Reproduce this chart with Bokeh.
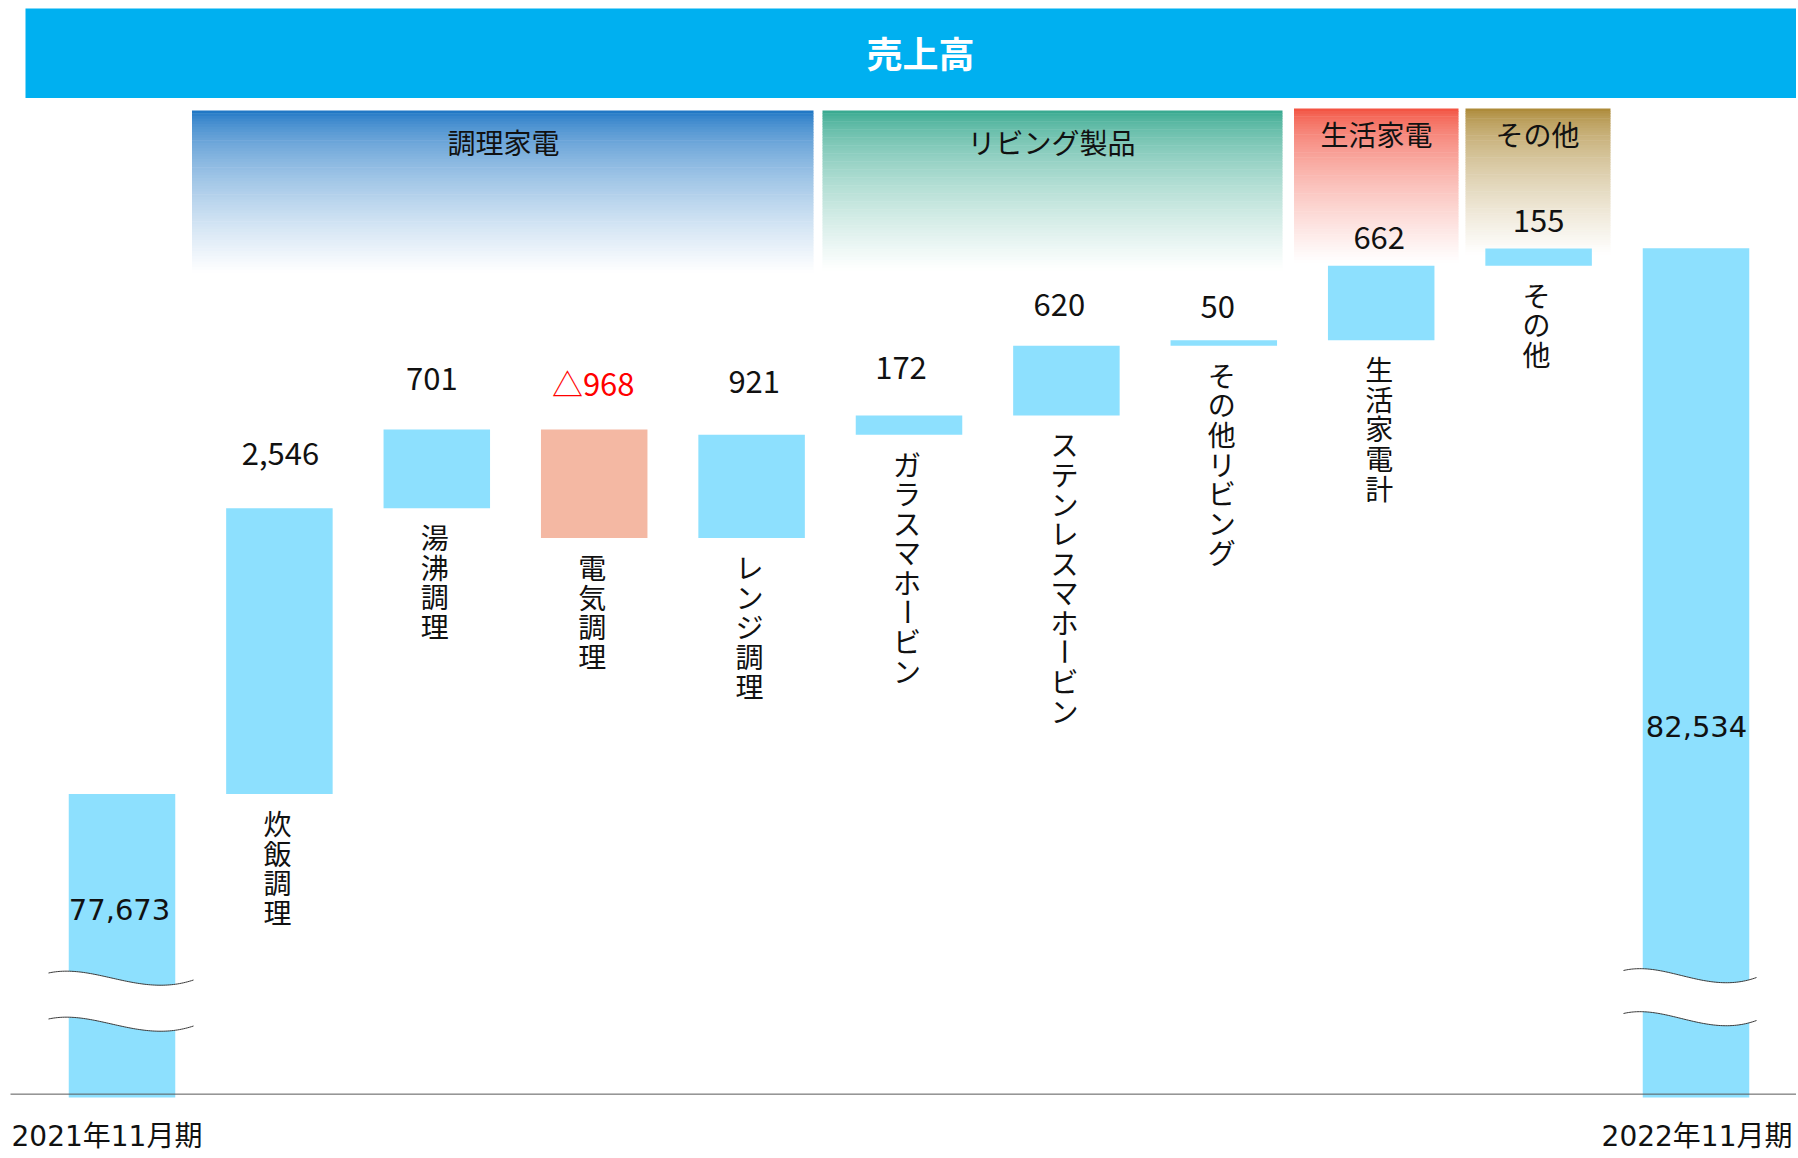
import numpy as np
from bokeh.plotting import figure
from bokeh.models import ColumnDataSource
from bokeh.core.properties import value
from bokeh.embed import file_html
from bokeh.resources import INLINE

# ---------------- data ----------------
categories = ["2021年11月期", "炊飯調理", "湯沸調理", "電気調理", "レンジ調理",
              "ガラスマホービン", "ステンレスマホービン", "その他リビング",
              "生活家電計", "その他", "2022年11月期"]
start_value = 77673
end_value = 82534
deltas = [2546, 701, -968, 921, 172, 620, 50, 662, 155]
value_labels = ["77,673", "2,546", "701", "△968", "921", "172", "620",
                "50", "662", "155", "82,534"]
groups = ["調理家電", "リビング製品", "生活家電", "その他"]
title_text = "売上高"
axis_floor = 75000          # value axis is truncated (broken) here

# ---------------- layout helpers (screen px of the page) ----------------
W, H = 1796, 1156
K = 545.8 / 4861.0          # px per unit of sales
Y0PX = 793.5                # page y of start_value
X0PX, XSTEP = 121.5, 157.4  # page x of first bar centre, spacing


def vy(py):
    return start_value + (Y0PX - py) / K


def vx(px):
    return (px - X0PX) / XSTEP


def py_of(v):
    return Y0PX - (v - start_value) * K


FONT = value("Noto Sans CJK JP")
NUMFONT = value("DejaVu Sans, Noto Sans CJK JP")

p = figure(width=W, height=H, x_range=(vx(0), vx(W)), y_range=(vy(H), vy(0)),
           output_backend="svg", toolbar_location=None,
           x_axis_type=None, y_axis_type=None, min_border=0)
p.outline_line_color = None
p.background_fill_color = "white"
p.border_fill_color = "white"
p.xgrid.visible = False
p.ygrid.visible = False

# ---------------- title bar ----------------
p.quad(left=[vx(25)], right=[vx(1805)], top=[vy(8)], bottom=[vy(97.5)],
       fill_color="#00B0F0", line_color=None)
p.text(x=[vx(920)], y=[vy(51)], text=[title_text], text_font=FONT,
       text_font_size="36px", text_font_style="bold", text_color="white",
       text_align="center", text_baseline="middle")

# ---------------- group headers with vertical gradient ----------------
hdr_layout = [  # left, right, top, bottom, top colour, label x, label y
    (191.5, 813, 110, 272, (20, 112, 194), 503, 141),
    (822, 1282, 110, 270, (46, 165, 138), 1051, 141),
    (1293.5, 1458, 108, 262, (242, 74, 56), 1376, 133),
    (1465, 1610, 108, 254, (168, 132, 46), 1537, 133),
]
N = 60
for (l, r, t, b, c, lx, ly), name in zip(hdr_layout, groups):
    edges = np.linspace(t, b, N + 1)
    tops, bots, cols = [], [], []
    for k in range(N):
        f = ((k + 0.5) / N) ** 0.6
        rgb = [int(round(ci + (255 - ci) * f)) for ci in c]
        cols.append("#%02x%02x%02x" % tuple(rgb))
        tops.append(vy(edges[k]))
        bots.append(vy(edges[k + 1] + 0.6))
    p.quad(left=[vx(l)] * N, right=[vx(r)] * N, top=tops, bottom=bots,
           fill_color=cols, line_color=None)
    p.text(x=[vx(lx)], y=[vy(ly)], text=[name], text_font=FONT,
           text_font_size="28px", text_color="#111111",
           text_align="center", text_baseline="middle")

# ---------------- waterfall bars ----------------
totals = [start_value]
for d in deltas:
    totals.append(totals[-1] + d)

bar_floor = vy(1097)
xs = list(range(len(categories)))
bottoms = [bar_floor]
tops = [start_value]
colors = ["#8DE0FE"]
for i, d in enumerate(deltas):
    bottoms.append(min(totals[i], totals[i + 1]))
    tops.append(max(totals[i], totals[i + 1]))
    colors.append("#8DE0FE" if d >= 0 else "#F4B8A3")
bottoms.append(bar_floor)
tops.append(end_value)
colors.append("#8DE0FE")

src = ColumnDataSource(dict(x=xs, bottom=bottoms, top=tops, color=colors))
p.vbar(x="x", width=106.5 / XSTEP, bottom="bottom", top="top",
       fill_color="color", line_color=None, source=src)

# axis line
p.segment(x0=[vx(10)], x1=[vx(1805)], y0=[axis_floor], y1=[axis_floor],
          line_color="#595959", line_width=1)

# ---------------- axis-break waves ----------------
wave_layout = [  # bar index, left px, right px, first wave y, gap
    (0, 48, 193, 972.5, 46),
    (len(categories) - 1, 1623, 1756, 970, 43),
]
t = np.linspace(0, 1, 80)
bx = np.array([0.0, 0.32, 0.63, 1.0])
by = np.array([0.0, -10.0, 25.0, 7.0])
bern = np.stack([(1 - t) ** 3, 3 * (1 - t) ** 2 * t, 3 * (1 - t) * t ** 2, t ** 3])
for idx, lpx, rpx, wy, gap in wave_layout:
    px_ = lpx + (bern.T @ bx) * (rpx - lpx)
    py1 = wy + bern.T @ by
    py2 = py1 + gap
    X = [vx(v) for v in px_]
    Y1 = [vy(v) for v in py1]
    Y2 = [vy(v) for v in py2]
    p.patch(x=X + X[::-1], y=Y1 + Y2[::-1], fill_color="white", line_color=None)
    p.line(x=X, y=Y1, line_color="#3A3A3A", line_width=1)
    p.line(x=X, y=Y2, line_color="#3A3A3A", line_width=1)

# ---------------- value labels ----------------
lab_dy = [55, 50.7, 47, 52.7, 48, 41, 34, 28.4, 28]     # px above bar top
lab_dx = [1, -5, -1, 2.6, -8, -7, -6, -2, 0]            # px from bar centre
lx, ly, lt, lc = [], [], [], []
for i in range(1, len(categories) - 1):
    lx.append(vx(X0PX + XSTEP * i + lab_dx[i - 1]))
    ly.append(vy(py_of(tops[i]) - lab_dy[i - 1]))
    lt.append(value_labels[i])
    lc.append("#FF0000" if deltas[i - 1] < 0 else "#111111")
p.text(x=lx, y=ly, text=lt, text_color=lc, text_font=FONT, text_font_size="31px",
       text_align="center", text_baseline="middle")

# totals inside bars
p.text(x=[vx(119), vx(1696)], y=[vy(909), vy(726)],
       text=[value_labels[0], value_labels[-1]], text_color="#111111",
       text_font=NUMFONT, text_font_size="29px",
       text_align="center", text_baseline="middle")

# ---------------- vertical category labels ----------------
cx, cy, ct, ca = [], [], [], []
PITCH = 29.6
for i in range(1, len(categories) - 1):
    base = py_of(bottoms[i]) + 29
    for j, ch in enumerate(categories[i]):
        cx.append(vx(X0PX + XSTEP * i - 2))
        cy.append(vy(base + j * PITCH))
        ct.append(ch)
        ca.append(np.pi / 2 if ch == "ー" else 0.0)
p.text(x=cx, y=cy, text=ct, angle=ca, text_color="#111111", text_font=FONT,
       text_font_size="28px", text_align="center", text_baseline="middle")

# ---------------- period labels ----------------
p.text(x=[vx(11)], y=[vy(1136)], text=[categories[0]], text_color="#111111",
       text_font=NUMFONT, text_font_size="28px", text_align="left",
       text_baseline="middle")
p.text(x=[vx(1792)], y=[vy(1136)], text=[categories[-1]], text_color="#111111",
       text_font=NUMFONT, text_font_size="28px", text_align="right",
       text_baseline="middle")

open("out.html", "w").write(file_html(p, INLINE))
